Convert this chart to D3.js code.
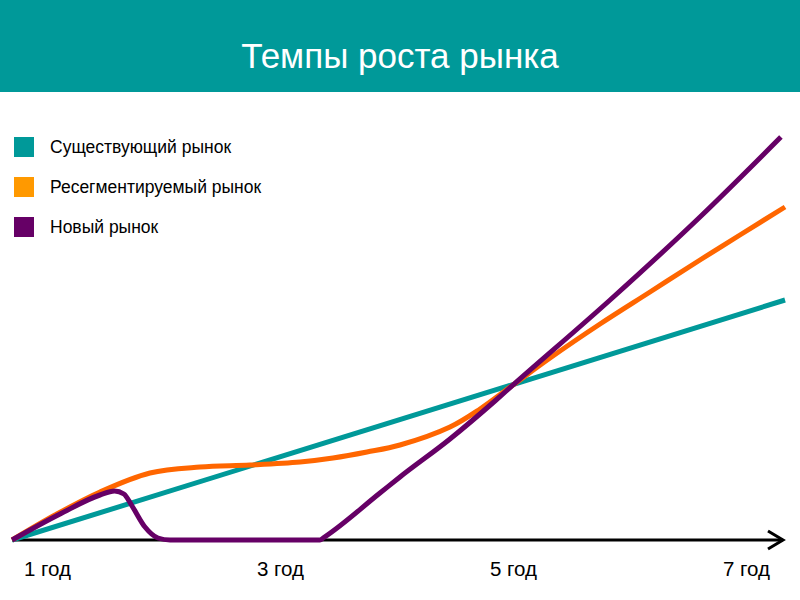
<!DOCTYPE html>
<html>
<head>
<meta charset="utf-8">
<script src="https://cdn.jsdelivr.net/npm/d3@7"></script>
<style>
  html, body { margin: 0; padding: 0; background: #fff; }
  svg { display: block; }
</style>
</head>
<body>
<svg id="chart" width="800" height="600"></svg>
<script>
const title = "Темпы роста рынка";
const seriesNames = ["Существующий рынок", "Ресегментируемый рынок", "Новый рынок"];
const tickYears = [1, 3, 5, 7];
const tickLabels = ["1 год", "3 год", "5 год", "7 год"];

// [year, value]
const existingMarket = [[0.70, 0], [7.335, 240]];
const resegmentedMarket = [
  [0.70, 0], [1.069, 25], [1.455, 48], [1.884, 67], [2.313, 73], [2.742, 75],
  [3.172, 78], [3.455, 82], [3.747, 88], [4.030, 95], [4.459, 113], [4.717, 131],
  [5.000, 155], [5.318, 182], [5.747, 216], [6.176, 248], [6.605, 280],
  [6.948, 305], [7.335, 333]
];
const newMarket = [
  [0.70, 0], [1.112, 26], [1.455, 45], [1.58, 49], [1.66, 46], [1.73, 34],
  [1.841, 13], [1.953, 2], [2.056, 0], [3.343, 0], [3.37, 2], [3.858, 47],
  [4.030, 63], [4.459, 101], [4.845, 139], [5.000, 155], [5.833, 240],
  [6.605, 323], [7.300, 403]
];

const lineColors = ["#009999", "#FF6600", "#660066"];
const legendColors = ["#009999", "#FF9900", "#660066"];
const font = "Liberation Sans, Arial, sans-serif";

const svg = d3.select("#chart");

// header band
svg.append("rect").attr("x", 0).attr("y", 0).attr("width", 800).attr("height", 92).attr("fill", "#009999");
svg.append("text").attr("x", 400).attr("y", 68).attr("text-anchor", "middle")
  .attr("font-family", font).attr("font-size", 35)
  .attr("fill", "#fff").text(title);

const x = d3.scaleLinear().domain([1, 7]).range([47, 746]);
const y = d3.scaleLinear().domain([0, 450]).range([540, 90]);

// axis baseline with arrow
const axisG = svg.append("g");
axisG.append("line").attr("x1", x(0.70)).attr("x2", 783).attr("y1", y(0)).attr("y2", y(0))
  .attr("stroke", "#000").attr("stroke-width", 3);
axisG.append("path").attr("d", `M768,${y(0) - 9} L783,${y(0)} L768,${y(0) + 9}`)
  .attr("fill", "none").attr("stroke", "#000").attr("stroke-width", 3);

const xAxis = d3.axisBottom(x).tickValues(tickYears).tickSize(0)
  .tickFormat((d, i) => tickLabels[i]);
const ax = svg.append("g").attr("transform", `translate(0,${y(0)})`).call(xAxis);
ax.select(".domain").remove();
ax.selectAll("text").attr("font-family", font)
  .attr("font-size", 20.5).attr("fill", "#000").attr("dy", 0).attr("y", 36);

const curves = [d3.curveLinear, d3.curveCatmullRom.alpha(0.5), d3.curveMonotoneX];
const all = [existingMarket, resegmentedMarket, newMarket];
all.forEach((data, i) => {
  const line = d3.line().x(d => x(d[0])).y(d => y(d[1])).curve(curves[i]);
  svg.append("path").datum(data).attr("d", line)
    .attr("fill", "none").attr("stroke", lineColors[i]).attr("stroke-width", 5)
    .attr("stroke-linejoin", "round");
});

// legend
const lg = svg.append("g");
seriesNames.forEach((name, i) => {
  const yy = 137 + i * 40;
  lg.append("rect").attr("x", 14).attr("y", yy).attr("width", 20).attr("height", 20).attr("fill", legendColors[i]);
  lg.append("text").attr("x", 50).attr("y", yy + 16)
    .attr("font-family", font).attr("font-size", 17.5)
    .attr("fill", "#000").text(name);
});
</script>
</body>
</html>
